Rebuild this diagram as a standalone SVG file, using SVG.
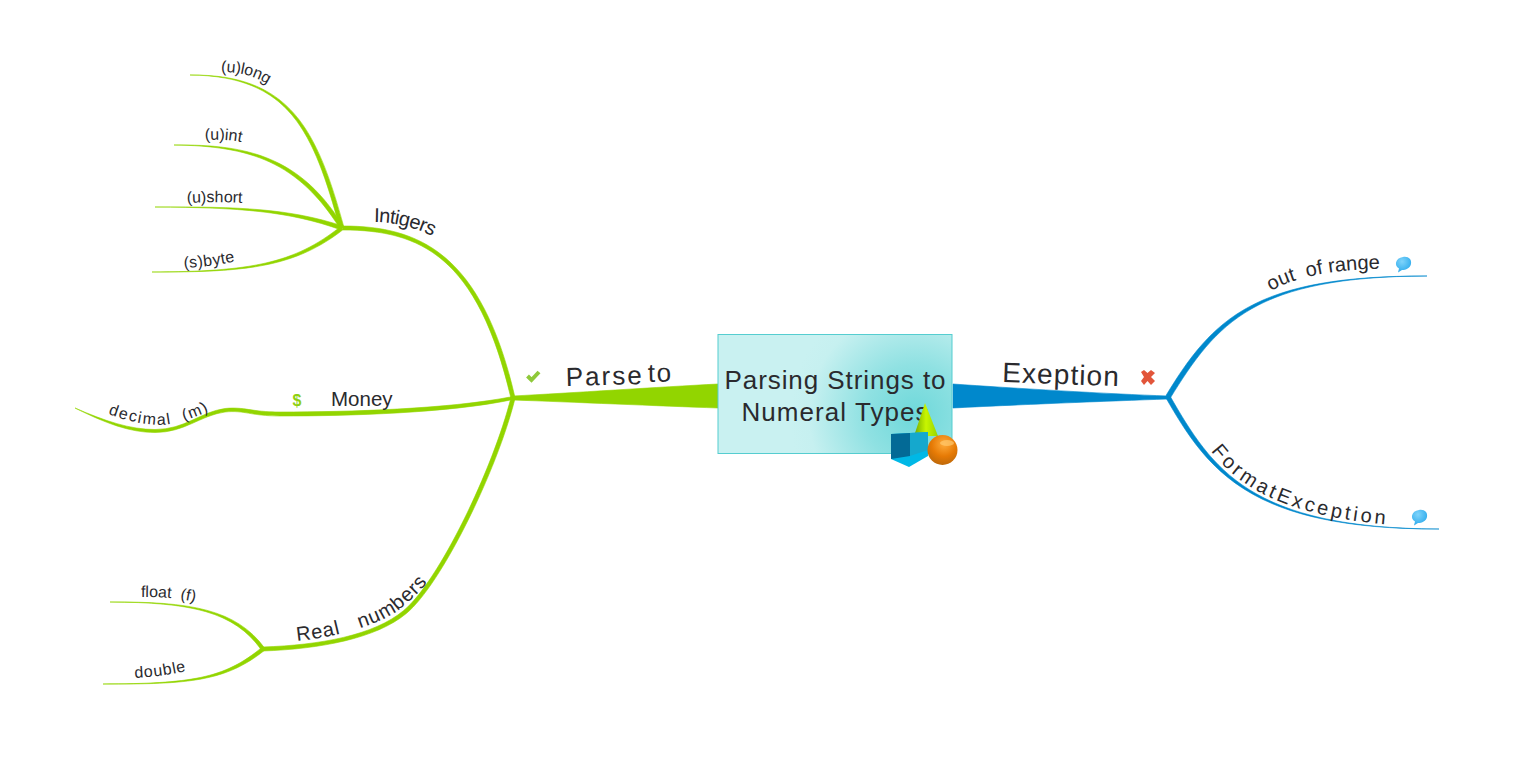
<svg xmlns="http://www.w3.org/2000/svg" xmlns:xlink="http://www.w3.org/1999/xlink" width="1513" height="759" viewBox="0 0 1513 759">
<style>
text{font-family:"Liberation Sans",Arial,sans-serif;fill:#2a2a2e}
.g{fill:#92d500;stroke:#92d500;stroke-width:.6;stroke-linejoin:round}.b{fill:#0088cc;stroke:#0088cc;stroke-width:.6;stroke-linejoin:round}
.l1{font-size:26px}.l2{font-size:20px}.l3{font-size:16px}
</style>
<defs>
<radialGradient id="cg" gradientUnits="userSpaceOnUse" cx="915" cy="415" r="125"><stop offset="0" stop-color="#6ed8da"/><stop offset=".4" stop-color="#8fe1e2"/><stop offset=".85" stop-color="#c6f0f0"/><stop offset="1" stop-color="#c9f1f1"/></radialGradient>
<radialGradient id="sph" cx=".55" cy=".3" r=".75"><stop offset="0" stop-color="#ffab3a"/><stop offset=".55" stop-color="#e67a05"/><stop offset="1" stop-color="#b8660a"/></radialGradient>
<linearGradient id="cone" x1="0" x2="1" y1="0" y2="0"><stop offset="0" stop-color="#6fa800"/><stop offset=".5" stop-color="#c8f500"/><stop offset="1" stop-color="#96d400"/></linearGradient>
<radialGradient id="bub" cx=".4" cy=".3" r=".8"><stop offset="0" stop-color="#7fd4fb"/><stop offset="1" stop-color="#22a5ea"/></radialGradient>
<path id="tUlong" d="M221 72 C240 72 256 76 270 86"/>
<path id="tUint" d="M205 140 C220 139 232 140 245 143"/>
<path id="tUshort" d="M187 203 C205 202 225 202 243 203"/>
<path id="tSbyte" d="M184 268 C200 267 220 265 237 261"/>
<path id="tInt" d="M374 222 C395 222 418 228 436 238"/>
<path id="tDec" d="M108 414 C130 422 155 428 175 423 C185 420 198 417 210 410"/>
<path id="tReal" d="M297 641 C340 637 383 623 401 608 C413 598 425 588 434 572"/>
<path id="tFloat" d="M141 597 C160 597 180 598 199 603"/>
<path id="tDouble" d="M135 678 C152 677 170 675 190 670"/>
<path id="tOut" d="M1271 291 C1298 275 1343 268 1390 269"/>
<path id="tFmt" d="M1211 451 C1242 493 1300 518 1393 525"/>
</defs>

<g id="connectors">
<path class="g" d="M718 384 C660 387 570 393 513 396 L513 400 C570 402 660 406 718 408Z"/>
<path class="b" d="M953 384 C1010 388 1110 394 1168 396 L1168 399 C1110 401 1010 405 953 408Z"/>
<path class="g" d="M515 397.500 C482 254 420 226 343 226 L343 230 C420 230 478 256 511 398.500Z"/>
<path class="g" d="M513 396.500 C450 409 350 412 280 412 C250 412 245 406.500 225 408.500 C200 412 185 429.500 155 429.500 C130 429.500 105 421 75 408 C105 423 130 432.500 155 432.500 C185 432.500 200 415.500 225 412 C245 410 250 416 280 416 C350 416 450 413 513 399.500Z"/>
<path class="g" d="M515 398.500 C497 471 441.300 584.500 406.300 613.500 C376.300 638.500 320 649 263 651 L263 647 C320 645 373.700 635.500 403.700 610.500 C438.700 581.500 493 469 511 397.500Z"/>
<path class="g" d="M190 75 C290 74 317 129 344 227.500 L340 228.500 C313 131 290 76 190 75Z"/>
<path class="g" d="M174 145 C250 144 302 158.500 343.700 227 L340.300 229 C298 161.500 250 146 174 145Z"/>
<path class="g" d="M155 207 C240 206.500 290.500 208.700 342.700 226 L341.300 230 C289.500 211.300 240 207.500 155 207Z"/>
<path class="g" d="M152 272 C250 272.500 296 266.200 343.200 229.600 L340.800 226.400 C294 263.800 250 271.500 152 272Z"/>
<path class="g" d="M110 602 C190 601.500 236 609 264.600 648 L261.400 650 C234 611 190 602.500 110 602Z"/>
<path class="g" d="M103 684 C190 684.500 226 681 264.300 650.500 L261.700 647.500 C224 679 190 683.500 103 684Z"/>
<path class="b" d="M1170 398.500 C1217 322 1255 276.500 1427 276 C1255 275.500 1213 318 1166 395.500Z"/>
<path class="b" d="M1170 396 C1212 469 1250 528.500 1439 529 C1250 529.500 1208 471 1166 398Z"/>
</g>

<g id="central">
<rect x="718" y="334.500" width="234" height="119" fill="url(#cg)" stroke="#55cdd0" stroke-width="1"/>
<text class="l1" x="835" y="389" text-anchor="middle" textLength="221">Parsing Strings to</text>
<text class="l1" x="835" y="421" text-anchor="middle" textLength="187">Numeral Types</text>
<polygon points="925,403 914,436 938,436" fill="url(#cone)"/>
<polygon points="891,434 928,432 928,456 909,467 891,459" fill="#00b8e6"/>
<polygon points="891,434 910,433 910,456 891,459" fill="#036a96"/>
<polygon points="910,433 928,432 928,450 910,456" fill="#15a8cd"/>
<circle cx="942.500" cy="450" r="15" fill="url(#sph)"/>
<ellipse cx="947" cy="443" rx="7" ry="3" fill="#ffc96e" opacity=".7"/>
</g>

<g id="parse-to">
<text x="566" y="386" font-size="26" letter-spacing="2" transform="rotate(-1.500 566 386)">Parse</text>
<text x="648" y="382" font-size="26" letter-spacing="1.500" transform="rotate(-1 648 382)">to</text>
<path d="M527.500 376 L531.500 380 L539 372" fill="none" stroke="#8fc93a" stroke-width="4"/>
</g>
<g id="exeption">
<text x="1002" y="382" font-size="28" letter-spacing="1.100" transform="rotate(2 1002 382)">Exeption</text>
<path d="M1141 372 L1144 370 L1147.500 373 L1151 370 L1155 373 L1151 377 L1155 381 L1151 385 L1147.500 381 L1144 385 L1141 381 L1144 377Z" fill="#e2553a"/>
</g>
<g id="intigers"><text class="l2" letter-spacing="-.7"><textPath xlink:href="#tInt" href="#tInt">Intigers</textPath></text></g>
<g id="money">
<text x="331" y="406" font-size="20.500">Money</text>
<text x="292.500" y="406" font-size="16" font-weight="bold" style="fill:#8fd010">$</text>
</g>
<g id="real-numbers"><text class="l2" xml:space="preserve" letter-spacing="0.900"><textPath xlink:href="#tReal" href="#tReal">Real   numbers</textPath></text></g>
<g id="ulong"><text class="l3" letter-spacing="-.2"><textPath xlink:href="#tUlong" href="#tUlong">(u)long</textPath></text></g>
<g id="uint"><text class="l3"><textPath xlink:href="#tUint" href="#tUint">(u)int</textPath></text></g>
<g id="ushort"><text class="l3"><textPath xlink:href="#tUshort" href="#tUshort">(u)short</textPath></text></g>
<g id="sbyte"><text class="l3" letter-spacing=".4"><textPath xlink:href="#tSbyte" href="#tSbyte">(s)byte</textPath></text></g>
<g id="decimal"><text class="l3" xml:space="preserve" letter-spacing="1.500"><textPath xlink:href="#tDec" href="#tDec">decimal  (m)</textPath></text></g>
<g id="float"><text class="l3" xml:space="preserve"><textPath xlink:href="#tFloat" href="#tFloat">float  (f)</textPath></text></g>
<g id="double"><text class="l3" letter-spacing=".7"><textPath xlink:href="#tDouble" href="#tDouble">double</textPath></text></g>
<g id="out-of-range">
<text class="l2" xml:space="preserve"><textPath xlink:href="#tOut" href="#tOut">out  of range</textPath></text>
<path d="M1403 257 C1408 256 1412 259 1411 264 C1410 268 1406 270 1402 270 L1398 272.500 L1399 268.500 C1394 266 1395 258 1403 257Z" fill="url(#bub)"/>
</g>
<g id="formatexception">
<text class="l2" letter-spacing="3.100"><textPath xlink:href="#tFmt" href="#tFmt">FormatException</textPath></text>
<path d="M1419 510 C1424 509 1428 512 1427 517 C1426 521 1422 523 1418 523 L1414 525.500 L1415 521.500 C1410 519 1411 511 1419 510Z" fill="url(#bub)"/>
</g>
</svg>
